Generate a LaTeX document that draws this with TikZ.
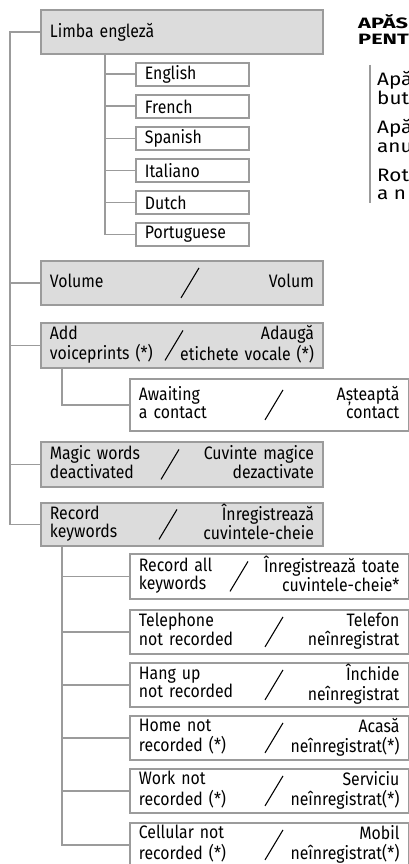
\documentclass[tikz,border=0pt]{standalone}
\usepackage{fontspec}
\setmainfont{Fira Sans}[FakeStretch=0.88]
\newfontfamily\sidefam{Fira Sans}[FakeStretch=1.15]
\newfontfamily\headfam{Fira Sans}[FakeStretch=1.45]
\usetikzlibrary{calc}

\definecolor{framegray}{HTML}{9B9B9B}
\definecolor{menugray}{HTML}{DCDCDC}
\newcommand{\menufont}{\fontsize{18}{17.5}\selectfont}
\newcommand{\sidefont}{\sidefam\fontsize{18}{18}\selectfont}
\newcommand{\headfont}{\headfam\bfseries\fontsize{15}{15}\selectfont}
\newcommand{\menupair}[2]{\begin{tabular}[c]{@{}l@{}}#1\end{tabular}\hfill\begin{tabular}[c]{@{}r@{}}#2\end{tabular}}

\begin{document}
\begin{tikzpicture}[x=1pt,y=-1pt]
	\tikzset{menuitem/.style={draw=framegray, line width=1.8pt, anchor=north west, inner xsep=9pt, inner ysep=0pt, font=\menufont},
		menuhead/.style={menuitem, fill=menugray, text width=264pt, minimum height=44pt},
		menusub/.style={menuitem, fill=white, text width=260.5pt, minimum height=45pt},
		langitem/.style={menuitem, fill=white, text width=95pt, minimum height=23pt},
		link/.style={draw=framegray, line width=1.8pt},
		slash/.style={line width=1.1pt}}
	\useasboundingbox (0,0) rectangle (409,864);
	\clip (0,0) rectangle (409,864);
	\fill[white] (0,0) rectangle (409,864);
	
	% top level
	\node[menuhead] (limba) at (40,9) {Limba engleză};
	\node[menuhead] (volume) at (40,260) {\menupair{Volume}{Volum}};
	\node[menuhead, minimum height=45pt] (voice) at (40,322) {\menupair{Add\\voiceprints (*)}{Adaugă\\etichete vocale (*)}};
	\node[menuhead, minimum height=45pt] (magic) at (40,441) {\menupair{Magic words\\deactivated}{Cuvinte magice\\dezactivate}};
	\node[menuhead, minimum height=43pt] (record) at (40,502) {\menupair{Record\\keywords}{Înregistrează\\cuvintele-cheie}};
	
	% languages
	\foreach \name/\lang [count=\i] in {english/English, french/French, spanish/Spanish, italiano/Italiano, dutch/Dutch, portuguese/Portuguese}
		\node[langitem] (\name) at (135,{62+32*(\i-1)}) {\lang};
	
	% sub menus
	\node[menusub, minimum height=52pt] (await) at (129,378) {\menupair{Awaiting\\a contact}{Așteaptă\\contact}};
	\node[menusub] (recall) at (129,553) {\menupair{Record all\\keywords}{Înregistrează toate\\cuvintele-cheie*}};
	\node[menusub, minimum height=44pt] (phone) at (129,609) {\menupair{Telephone\\not recorded}{Telefon\\neînregistrat}};
	\node[menusub, minimum height=44pt] (hangup) at (129,662) {\menupair{Hang up\\not recorded}{Închide\\neînregistrat}};
	\node[menusub, minimum height=44pt] (home) at (129,715) {\menupair{Home not\\recorded (*)}{Acasă\\neînregistrat(*)}};
	\node[menusub, minimum height=44pt] (work) at (129,768) {\menupair{Work not\\recorded (*)}{Serviciu\\neînregistrat(*)}};
	\node[menusub, minimum height=44pt] (cell) at (129,822) {\menupair{Cellular not\\recorded (*)}{Mobil\\neînregistrat(*)}};
	
	\foreach \n/\x in {volume/190, voice/174, await/274, magic/170, record/168, recall/239, phone/274, hangup/274, home/274, work/274, cell/274}
		\draw[slash] (\x,0 |- \n.center) ++(-9,15) -- ++(18,-30);
	
	% tree lines
	\coordinate (trunk) at (10,0);
	\coordinate (langtrunk) at (105,0);
	\coordinate (subtrunk) at (62,0);
	\draw[link] (limba.west) -- (limba.west -| trunk) |- (record.west);
	\foreach \n in {volume, voice, magic}
		\draw[link] (\n.west) -- (\n.west -| trunk);
	\draw[link] (limba.south -| langtrunk) |- (portuguese.west);
	\foreach \n in {english, french, spanish, italiano, dutch}
		\draw[link] (\n.west) -- (\n.west -| langtrunk);
	\draw[link] (voice.south -| subtrunk) |- (await.west);
	\draw[link] (record.south -| subtrunk) |- (cell.west);
	\foreach \n in {recall, phone, hangup, home, work}
		\draw[link] (\n.west) -- (\n.west -| subtrunk);
	
	% side text
	\node[anchor=base west, inner sep=0pt, font=\headfont] (headA) at (358,29) {APĂS};
	\node[anchor=base west, inner sep=0pt, font=\headfont] (headB) at (358,45) {PENT};
	\draw[framegray, line width=1.6pt] (370,65) -- (370,203);
	\foreach \t/\y [count=\i] in {Apă/86, but/105, Apă/134, anu/153, Rot/181, a n/199}
		\node[anchor=base west, inner sep=0pt, font=\sidefont] (side\i) at (377,\y) {\t};
\end{tikzpicture}
\end{document}
